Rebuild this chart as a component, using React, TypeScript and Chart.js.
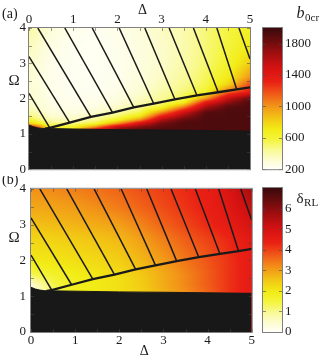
import React, { useEffect, useRef } from "react";
import { Chart, registerables } from "chart.js";

Chart.register(...registerables);

// ---------------- data ----------------
const DELTA_TICKS = [0, 1, 2, 3, 4, 5];
const OMEGA_TICKS = [0, 1, 2, 3, 4];
const CB_A_TICKS = [200, 600, 1000, 1400, 1800];
const CB_B_TICKS = [0, 1, 2, 3, 4, 5, 6];
const CB_A_RANGE = [200, 2000];
const CB_B_RANGE = [0, 7];

const GRID_DELTA = [0, 0.5, 1, 1.5, 2, 2.5, 3, 3.5, 4, 4.5, 5];
const GRID_OMEGA = [1.0, 1.1, 1.2, 1.3, 1.4, 1.5, 1.6, 1.7, 1.8, 1.9, 2.0, 2.2, 2.4, 2.6, 3.0, 3.5, 4.0];

// panel (a): b0cr, rows follow GRID_OMEGA, columns follow GRID_DELTA
const B0CR = [
  [1600, 800, 900, 1700, 1900, 1920, 1930, 1930, 1930, 1930, 1930],
  [1600, 720, 750, 1500, 1850, 1900, 1920, 1930, 1930, 1930, 1930],
  [1450, 620, 620, 1000, 1550, 1750, 1880, 1920, 1930, 1930, 1930],
  [800, 480, 470, 580, 980, 1450, 1800, 1920, 1930, 1930, 1930],
  [600, 380, 360, 450, 650, 1000, 1620, 1850, 1930, 1930, 1930],
  [500, 320, 300, 380, 500, 720, 1350, 1700, 1920, 1930, 1930],
  [430, 290, 270, 320, 420, 560, 1050, 1520, 1900, 1930, 1930],
  [380, 270, 250, 285, 360, 480, 760, 1250, 1750, 1920, 1930],
  [350, 260, 240, 260, 320, 420, 560, 950, 1580, 1850, 1930],
  [335, 250, 235, 245, 290, 380, 480, 660, 1350, 1700, 1920],
  [325, 245, 230, 235, 270, 350, 440, 560, 1000, 1550, 1850],
  [315, 240, 225, 225, 250, 310, 400, 490, 600, 1100, 1350],
  [310, 235, 220, 220, 240, 290, 370, 450, 560, 800, 1200],
  [310, 235, 220, 218, 235, 280, 350, 430, 530, 700, 1000],
  [330, 240, 220, 215, 232, 270, 330, 400, 500, 620, 820],
  [370, 260, 225, 215, 235, 270, 330, 390, 490, 580, 700],
  [420, 290, 235, 220, 245, 280, 350, 390, 490, 570, 650],
];

// panel (b): delta_RL
const DELTA_RL = [
  [0.5, 1.3, 1.85, 2.0, 2.15, 2.4, 2.8, 3.2, 3.65, 4.15, 4.55],
  [0.4, 1.3, 1.85, 2.0, 2.15, 2.4, 2.8, 3.2, 3.65, 4.15, 4.55],
  [0.3, 1.3, 1.85, 2.0, 2.15, 2.4, 2.8, 3.2, 3.65, 4.15, 4.55],
  [0.4, 1.35, 1.85, 2.0, 2.15, 2.45, 2.85, 3.25, 3.7, 4.15, 4.55],
  [0.7, 1.45, 1.85, 2.0, 2.15, 2.45, 2.85, 3.25, 3.7, 4.15, 4.55],
  [1.0, 1.55, 1.9, 2.0, 2.15, 2.45, 2.85, 3.25, 3.7, 4.15, 4.55],
  [1.3, 1.65, 1.95, 2.05, 2.2, 2.5, 2.85, 3.25, 3.7, 4.15, 4.55],
  [1.5, 1.8, 2.0, 2.1, 2.25, 2.55, 2.9, 3.3, 3.7, 4.15, 4.55],
  [1.7, 1.9, 2.05, 2.15, 2.3, 2.6, 2.95, 3.35, 3.75, 4.15, 4.55],
  [1.85, 2.0, 2.1, 2.2, 2.35, 2.65, 3.0, 3.4, 3.75, 4.15, 4.55],
  [2.0, 2.05, 2.15, 2.25, 2.4, 2.7, 3.05, 3.45, 3.8, 4.15, 4.55],
  [2.1, 2.15, 2.25, 2.35, 2.5, 2.8, 3.15, 3.5, 3.85, 4.2, 4.55],
  [2.2, 2.25, 2.35, 2.45, 2.6, 2.9, 3.25, 3.6, 3.9, 4.25, 4.6],
  [2.3, 2.35, 2.45, 2.55, 2.7, 3.0, 3.35, 3.7, 4.0, 4.3, 4.65],
  [2.6, 2.65, 2.75, 2.85, 3.0, 3.3, 3.65, 3.95, 4.25, 4.55, 4.95],
  [2.9, 2.95, 3.05, 3.2, 3.4, 3.65, 3.9, 4.15, 4.4, 4.75, 5.3],
  [3.15, 3.25, 3.35, 3.5, 3.65, 3.85, 4.05, 4.25, 4.45, 4.9, 5.7],
];

// black (excluded) region upper edge
const BLACK_DELTA = [0, 0.1, 0.2, 0.3, 0.45, 1, 2, 3, 4, 5];
const BLACK_OMEGA = [1.25, 1.2, 1.17, 1.155, 1.15, 1.14, 1.12, 1.11, 1.095, 1.08];

// thick boundary curve
const BOUND_DELTA = [0.36, 0.47, 0.92, 1.4, 1.89, 2.37, 2.82, 3.3, 3.8, 4.28, 4.7, 5.0];
const BOUND_OMEGA = [1.15, 1.17, 1.32, 1.48, 1.6, 1.75, 1.86, 1.98, 2.09, 2.18, 2.26, 2.32];

// hatching segments
const HATCH_START_DELTA = [0, 0, 0.2, 0.81, 1.43, 2.04, 2.62, 3.17, 3.72, 4.25, 4.75];
const HATCH_START_OMEGA = [2.15, 3.19, 4, 4, 4, 4, 4, 4, 4, 4, 4];
const HATCH_END_DELTA = [0.47, 0.92, 1.4, 1.89, 2.37, 2.82, 3.3, 3.8, 4.28, 4.7, 5];
const HATCH_END_OMEGA = [1.17, 1.32, 1.48, 1.6, 1.75, 1.86, 1.98, 2.09, 2.18, 2.26, 3.12];

// ---------------- styles ----------------
const CMAP_POS = [0, 0.07, 0.14, 0.21, 0.28, 0.36, 0.44, 0.53, 0.62, 0.72, 0.82, 0.91, 1];
const CMAP_RGB = [
  [255, 255, 248], [252, 252, 205], [249, 249, 145], [244, 244, 60], [242, 236, 22],
  [242, 198, 20], [242, 152, 24], [240, 92, 24], [234, 32, 20], [212, 18, 18],
  [160, 14, 15], [105, 12, 14], [58, 10, 12],
];
const SERIF = '"Liberation Serif", "DejaVu Serif", serif';
const INK = "#1a1a1a";
const BLACK_FILL = "#181818";
const FRAME = "#808080";

function cmap(t: number): number[] {
  t = Math.max(0, Math.min(1, t));
  let i = 0;
  while (i < CMAP_POS.length - 2 && t > CMAP_POS[i + 1]) i++;
  const f = (t - CMAP_POS[i]) / (CMAP_POS[i + 1] - CMAP_POS[i]);
  const a = CMAP_RGB[i], b = CMAP_RGB[i + 1];
  return [0, 1, 2].map((k) => Math.round(a[k] + (b[k] - a[k]) * f));
}

function locate(arr: number[], v: number): [number, number] {
  const n = arr.length;
  if (v <= arr[0]) return [0, 0];
  if (v >= arr[n - 1]) return [n - 2, 1];
  let i = 0;
  while (v > arr[i + 1]) i++;
  return [i, (v - arr[i]) / (arr[i + 1] - arr[i])];
}

function sampleGrid(grid: number[][], d: number, w: number): number {
  const [i, fx] = locate(GRID_DELTA, d);
  const [j, fy] = locate(GRID_OMEGA, w);
  const a = grid[j][i], b = grid[j][i + 1], c = grid[j + 1][i], e = grid[j + 1][i + 1];
  return (a * (1 - fx) + b * fx) * (1 - fy) + (c * (1 - fx) + e * fx) * fy;
}

function pts(xs: number[], ys: number[]) {
  return xs.map((x, i) => ({ x, y: ys[i] }));
}

function heatPlugin(grid: number[][], range: number[]) {
  return {
    id: "heat",
    beforeDatasetsDraw(chart: any) {
      const { ctx, chartArea: a, scales } = chart;
      const x = scales.x, y = scales.y;
      const L = Math.round(a.left), T = Math.round(a.top);
      const w = Math.round(a.right) - L, h = Math.round(a.bottom) - T;
      const img = ctx.createImageData(w, h);
      for (let j = 0; j < h; j++) {
        const om = y.getValueForPixel(T + j + 0.5);
        for (let i = 0; i < w; i++) {
          const de = x.getValueForPixel(L + i + 0.5);
          const v = sampleGrid(grid, de, om);
          const c = cmap((v - range[0]) / (range[1] - range[0]));
          const k = (j * w + i) * 4;
          img.data[k] = c[0];
          img.data[k + 1] = c[1];
          img.data[k + 2] = c[2];
          img.data[k + 3] = 255;
        }
      }
      ctx.putImageData(img, L, T);
    },
  };
}

function framePlugin(letter: string, letterY: number, deltaY: number, omegaY: number) {
  return {
    id: "frame",
    afterDatasetsDraw(chart: any) {
      const { ctx, chartArea: a, scales } = chart;
      const x = scales.x, y = scales.y;
      ctx.save();
      ctx.strokeStyle = "rgba(70,70,70,0.55)";
      ctx.lineWidth = 1;
      ctx.beginPath();
      for (let v = x.min; v <= x.max + 1e-9; v += 0.5) {
        const p = Math.round(x.getPixelForValue(v)) + 0.5;
        ctx.moveTo(p, a.top); ctx.lineTo(p, a.top + 3);
        ctx.moveTo(p, a.bottom); ctx.lineTo(p, a.bottom - 3);
      }
      for (let v = y.min; v <= y.max + 1e-9; v += 0.5) {
        const p = Math.round(y.getPixelForValue(v)) + 0.5;
        ctx.moveTo(a.left, p); ctx.lineTo(a.left + 3, p);
        ctx.moveTo(a.right, p); ctx.lineTo(a.right - 3, p);
      }
      ctx.stroke();
      ctx.strokeStyle = FRAME;
      ctx.strokeRect(a.left - 0.5, a.top - 0.5, a.right - a.left + 1, a.bottom - a.top + 1);
      ctx.fillStyle = INK;
      ctx.textBaseline = "middle";
      ctx.textAlign = "left";
      ctx.font = `14px ${SERIF}`;
      ctx.fillText(letter, 2, letterY);
      ctx.textAlign = "center";
      ctx.font = `15px ${SERIF}`;
      ctx.fillText("\u03A9", 14, omegaY);
      ctx.font = `14px ${SERIF}`;
      ctx.fillText("\u0394", (a.left + a.right) / 2 + 3, deltaY);
      ctx.restore();
    },
  };
}

function colorbarPlugin(range: number[], main: string, mainFont: string, sub: string, baseY: number) {
  return {
    id: "cbar",
    beforeDatasetsDraw(chart: any) {
      const { ctx, chartArea: a, scales } = chart;
      const y = scales.y;
      for (let py = Math.round(a.top); py < Math.round(a.bottom); py++) {
        const v = y.getValueForPixel(py + 0.5);
        const c = cmap((v - range[0]) / (range[1] - range[0]));
        ctx.fillStyle = `rgb(${c[0]},${c[1]},${c[2]})`;
        ctx.fillRect(a.left, py, a.right - a.left, 1);
      }
    },
    afterDraw(chart: any) {
      const { ctx, chartArea: a, scales } = chart;
      const y = scales.y;
      ctx.save();
      ctx.strokeStyle = "rgba(70,70,70,0.6)";
      ctx.lineWidth = 1;
      ctx.beginPath();
      y.ticks.forEach((t: any) => {
        const p = Math.round(y.getPixelForValue(t.value)) + 0.5;
        ctx.moveTo(a.left, p); ctx.lineTo(a.left + 3, p);
        ctx.moveTo(a.right, p); ctx.lineTo(a.right - 3, p);
      });
      ctx.stroke();
      ctx.strokeStyle = FRAME;
      ctx.strokeRect(a.left - 0.5, a.top - 0.5, a.right - a.left + 1, a.bottom - a.top + 1);
      ctx.fillStyle = INK;
      ctx.textBaseline = "alphabetic";
      ctx.textAlign = "left";
      ctx.font = mainFont;
      ctx.fillText(main, a.right + 14.5, baseY);
      const mw = ctx.measureText(main).width;
      ctx.font = `11px ${SERIF}`;
      ctx.fillText(sub, a.right + 14.5 + mw + 0.5, baseY + 3);
      ctx.restore();
    },
  };
}

const tickFont = { family: SERIF, size: 13 };

function heatConfig(p: any) {
  const datasets: any[] = [];
  datasets.push({
    data: pts(BOUND_DELTA, BOUND_OMEGA),
    borderColor: INK, borderWidth: 2.3, pointRadius: 0, fill: false, tension: 0,
  });
  HATCH_START_DELTA.forEach((d, i) => {
    datasets.push({
      data: [
        { x: d, y: HATCH_START_OMEGA[i] },
        { x: HATCH_END_DELTA[i], y: HATCH_END_OMEGA[i] },
      ],
      borderColor: INK, borderWidth: 1.5, pointRadius: 0, fill: false, tension: 0,
    });
  });
  datasets.push({
    data: pts(BLACK_DELTA, BLACK_OMEGA),
    borderColor: BLACK_FILL, backgroundColor: BLACK_FILL, borderWidth: 1,
    pointRadius: 0, fill: "origin", cubicInterpolationMode: "monotone",
  });
  return {
    type: "line",
    data: { datasets },
    options: {
      animation: false,
      responsive: false,
      devicePixelRatio: 1,
      events: [],
      layout: { padding: p.padding },
      plugins: { legend: { display: false }, tooltip: { enabled: false } },
      scales: {
        x: {
          type: "linear", position: p.xPos, min: 0, max: 5,
          afterBuildTicks: (s: any) => { s.ticks = DELTA_TICKS.map((v) => ({ value: v })); },
          afterFit: (s: any) => { s.height = p.xH; },
          grid: { display: false, drawTicks: false, tickLength: 0 },
          border: { display: false },
          ticks: { padding: 1, color: INK, font: tickFont, maxRotation: 0, autoSkip: false, callback: (v: any) => String(v) },
        },
        y: {
          type: "linear", position: "left", min: 0, max: 4,
          afterBuildTicks: (s: any) => { s.ticks = OMEGA_TICKS.map((v) => ({ value: v })); },
          afterFit: (s: any) => { s.width = p.yW; },
          grid: { display: false, drawTicks: false, tickLength: 0 },
          border: { display: false },
          ticks: { padding: p.yPad, color: INK, font: tickFont, autoSkip: false, callback: (v: any) => String(v) },
        },
      },
    },
    plugins: [heatPlugin(p.grid, p.range), framePlugin(p.letter, p.letterY, p.deltaY, p.omegaY)],
  };
}

function cbConfig(p: any) {
  return {
    type: "line",
    data: { datasets: [] },
    options: {
      animation: false,
      responsive: false,
      devicePixelRatio: 1,
      events: [],
      layout: { padding: { left: 8, right: 0, top: p.top, bottom: p.bottom } },
      plugins: { legend: { display: false }, tooltip: { enabled: false } },
      scales: {
        x: { type: "linear", display: false, min: 0, max: 1 },
        y: {
          type: "linear", position: "right", min: p.range[0], max: p.range[1],
          afterBuildTicks: (s: any) => { s.ticks = p.ticks.map((v: number) => ({ value: v })); },
          afterFit: (s: any) => { s.width = 38; },
          grid: { display: false, drawTicks: false, tickLength: 0 },
          border: { display: false },
          ticks: { padding: 3, color: INK, font: tickFont, autoSkip: false, callback: (v: any) => String(v) },
        },
      },
    },
    plugins: [colorbarPlugin(p.range, p.main, p.mainFont, p.sub, p.baseY)],
  };
}

export default function App() {
  const aRef = useRef<HTMLCanvasElement>(null);
  const bRef = useRef<HTMLCanvasElement>(null);
  const caRef = useRef<HTMLCanvasElement>(null);
  const cbRef = useRef<HTMLCanvasElement>(null);

  useEffect(() => {
    const charts: Chart[] = [];
    charts.push(new Chart(aRef.current as any, heatConfig({
      padding: { left: 0, top: 0, right: 6, bottom: 8 },
      xPos: "top", xH: 28, yW: 29, yPad: 3,
      grid: B0CR, range: CB_A_RANGE,
      letter: "(a)", letterY: 14, deltaY: 10.5, omegaY: 81,
    }) as any));
    charts.push(new Chart(bRef.current as any, heatConfig({
      padding: { left: 0, top: 12, right: 4, bottom: 0 },
      xPos: "bottom", xH: 26, yW: 31, yPad: 5,
      grid: DELTA_RL, range: CB_B_RANGE,
      letter: "(b)", letterY: 4.5, deltaY: 175, omegaY: 62,
    }) as any));
    charts.push(new Chart(caRef.current as any, cbConfig({
      top: 28, bottom: 8, range: CB_A_RANGE, ticks: CB_A_TICKS,
      main: "b", mainFont: `italic 16px ${SERIF}`, sub: "0cr", baseY: 17.5,
    }) as any));
    charts.push(new Chart(cbRef.current as any, cbConfig({
      top: 12, bottom: 26, range: CB_B_RANGE, ticks: CB_B_TICKS,
      main: "\u03B4", mainFont: `15px ${SERIF}`, sub: "RL", baseY: 26.5,
    }) as any));
    return () => charts.forEach((c) => c.destroy());
  }, []);

  const abs = (l: number, t: number, w: number, h: number): React.CSSProperties => ({
    position: "absolute", left: l, top: t, width: w, height: h, display: "block",
  });

  return (
    <div style={{ position: "absolute", left: 0, top: 0, width: 320, height: 358, background: "#fff", overflow: "hidden" }}>
      <canvas ref={aRef} width={256} height={180} style={abs(0, 0, 256, 180)} />
      <canvas ref={bRef} width={256} height={182} style={abs(0, 176, 256, 182)} />
      <canvas ref={caRef} width={65} height={180} style={abs(255, 0, 65, 180)} />
      <canvas ref={cbRef} width={65} height={182} style={abs(255, 176, 65, 182)} />
    </div>
  );
}
